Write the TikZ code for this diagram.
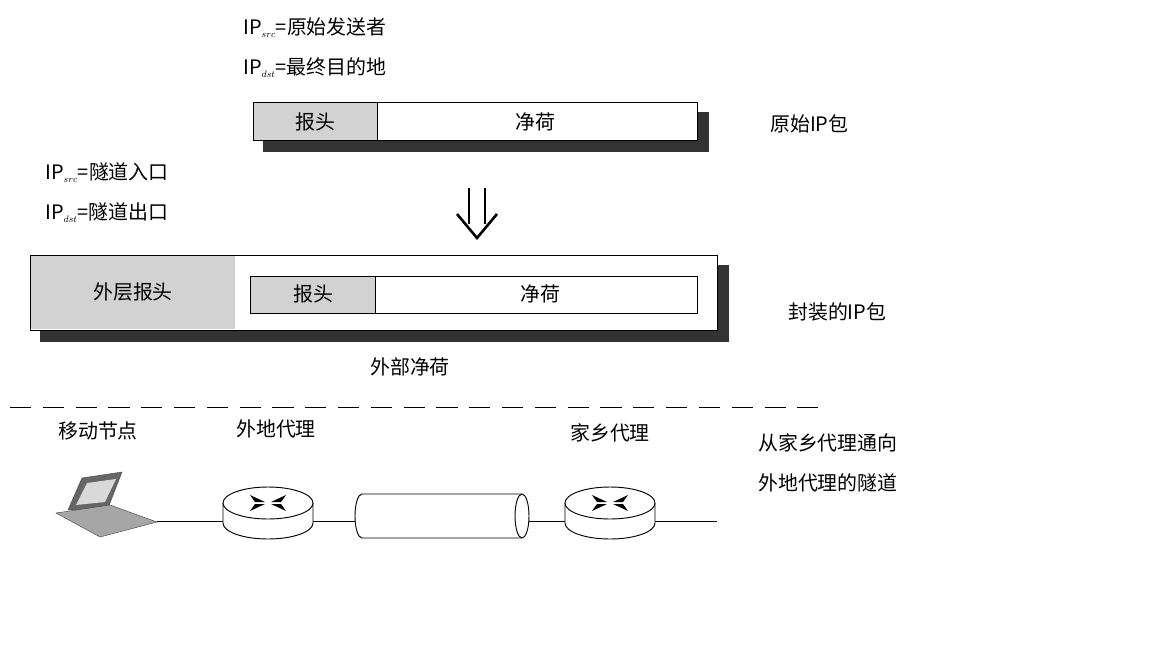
\documentclass[tikz,border=0pt]{standalone}
\usepackage{fontspec}
\setmainfont{Liberation Serif}
\newfontfamily\cjk{Noto Sans CJK SC}
\usetikzlibrary{positioning,arrows.meta}
\tikzset{
  lbl/.style={font=\cjk\fontsize{17}{19}\selectfont,inner sep=0pt},
  hdrbox/.style={draw=black,fill=gray!35,thick},
  paybox/.style={draw=black,fill=white,thick},
  shadow/.style={fill=black!80},
  wire/.style={thick,draw=black},
  router/.pic={
    \draw[thick,fill=white] (-45,0) -- (-45,20) arc[start angle=180,end angle=0,x radius=45,y radius=16] -- (45,0);
    \draw[thick,fill=white] (0,0) ellipse[x radius=45,y radius=16];
    \foreach \s in {1,-1}{
      \fill[black] (\s*3,-1) -- (\s*18,-8) -- (\s*13,-1) -- cycle;
      \fill[black] (\s*3,1) -- (\s*18,8) -- (\s*13,1) -- cycle;
    }
  }
}
\newcommand{\ipsub}[1]{IP$_{\scriptscriptstyle #1}$}
\begin{document}
\begin{tikzpicture}[x=0.03cm,y=-0.03cm]
  \useasboundingbox (0,0) rectangle (1152,648);
  % original packet
  \node[lbl,anchor=west] (srcA) at (243,28) {\ipsub{src}=原始发送者};
  \node[lbl,anchor=west] (dstA) at (243,68) {\ipsub{dst}=最终目的地};
  \fill[shadow] (263,112) rectangle (709,152);
  \draw[paybox] (253,102) rectangle (697,140);
  \draw[hdrbox] (253,102) rectangle (377,140);
  \node[lbl] (hdrA) at (315,122) {报头};
  \node[lbl] (payA) at (535,122) {净荷};
  \node[lbl,anchor=west] (origA) at (770,124) {原始IP包};
  % arrow
  \draw[line width=2.2pt] (469,188) -- (469,224) (485,188) -- (485,224);
  \draw[line width=2.2pt,line join=miter] (457,214) -- (477,238) -- (497,214);
  % encapsulated packet
  \node[lbl,anchor=west] (srcB) at (45,173) {\ipsub{src}=隧道入口};
  \node[lbl,anchor=west] (dstB) at (45,213) {\ipsub{dst}=隧道出口};
  \fill[shadow] (40,265) rectangle (729,342);
  \draw[paybox] (30,255) rectangle (717,330);
  \fill[gray!35] (31,256) rectangle (235,329);
  \node[lbl] (outer) at (133,292) {外层报头};
  \draw[paybox] (250,276) rectangle (697,313);
  \draw[hdrbox] (250,276) rectangle (375,313);
  \node[lbl] (hdrB) at (313,294) {报头};
  \node[lbl] (payB) at (540,294) {净荷};
  \node[lbl,anchor=west] (encB) at (788,312) {封装的IP包};
  \node[lbl] (outpay) at (410,367) {外部净荷};
  % divider
  \draw[thick,dash pattern=on 18pt off 10pt] (10,407) -- (830,407);
  % network
  \node[lbl] (mn) at (98,431) {移动节点};
  \node[lbl] (fa) at (276,429) {外地代理};
  \node[lbl] (ha) at (610,433) {家乡代理};
  \node[lbl,anchor=west] (tun1) at (758,443) {从家乡代理通向};
  \node[lbl,anchor=west] (tun2) at (758,483) {外地代理的隧道};
  % laptop
  \fill[gray!80!black,draw=black!70] (68,510) -- (82,478) -- (122,472) -- (108,508) -- cycle;
  \fill[gray!30] (76,505) -- (87,483) -- (116,479) -- (105,502) -- cycle;
  \fill[gray!70,draw=black!70] (56,513) -- (110,505) -- (157,522) -- (100,537) -- cycle;
  \coordinate (lap) at (157,521);
  % routers and tunnel
  \pic at (268,503) {router};
  \pic at (610,503) {router};
  \coordinate (r1w) at (223,521);
  \coordinate (r1e) at (313,521);
  \coordinate (r2w) at (565,521);
  \coordinate (r2e) at (655,521);
  \coordinate (endR) at (717,521);
  \draw[thick,fill=white] (362,494) -- (522,494) arc[start angle=-90,end angle=90,x radius=7,y radius=22] -- (362,538) arc[start angle=90,end angle=270,x radius=7,y radius=22] -- cycle;
  \draw[thick] (522,494) arc[start angle=270,end angle=90,x radius=7,y radius=22];
  \coordinate (tw) at (355,521);
  \coordinate (te) at (529,521);
  \draw[wire] (lap) -- (r1w);
  \draw[wire] (r1e) -- (tw);
  \draw[wire] (te) -- (r2w);
  \draw[wire] (r2e) -- (endR);
\end{tikzpicture}
\end{document}
